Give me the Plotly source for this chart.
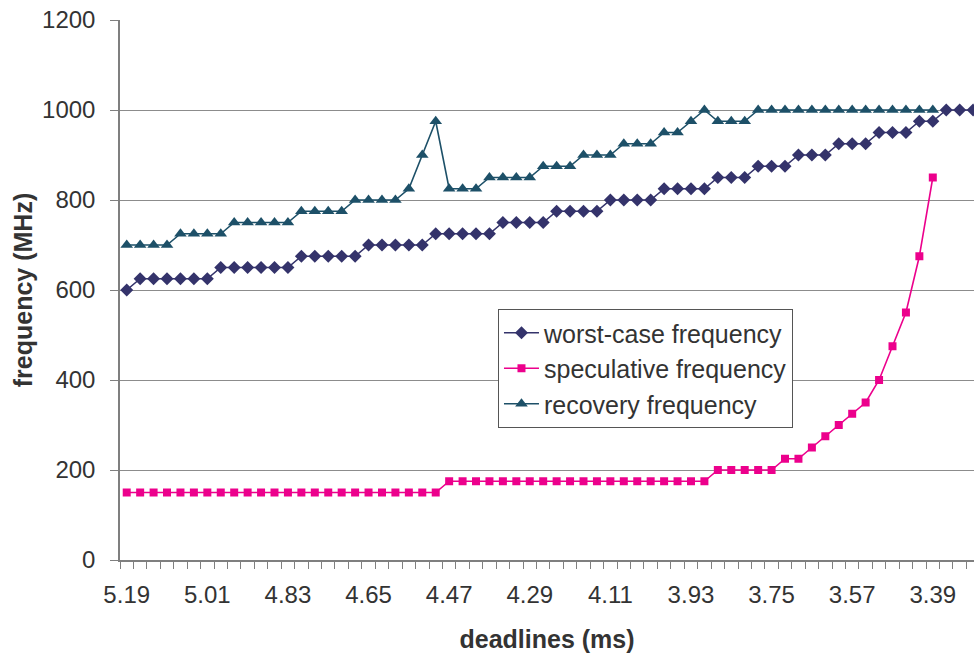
import plotly.graph_objects as go

# Deadline settings (ms), swept from loose to tight
deadlines = [5.19, 5.16, 5.13, 5.10, 5.07, 5.04, 5.01, 4.98, 4.95, 4.92,
             4.89, 4.86, 4.83, 4.80, 4.77, 4.74, 4.71, 4.68, 4.65, 4.62,
             4.59, 4.56, 4.53, 4.50, 4.47, 4.44, 4.41, 4.38, 4.35, 4.32,
             4.29, 4.26, 4.23, 4.20, 4.17, 4.14, 4.11, 4.08, 4.05, 4.02,
             3.99, 3.96, 3.93, 3.90, 3.87, 3.84, 3.81, 3.78, 3.75, 3.72,
             3.69, 3.66, 3.63, 3.60, 3.57, 3.54, 3.51, 3.48, 3.45, 3.42,
             3.39, 3.36, 3.33, 3.30]

# Frequencies in MHz
worst_case = [600, 625, 625, 625, 625, 625, 625, 650, 650, 650,
              650, 650, 650, 675, 675, 675, 675, 675, 700, 700,
              700, 700, 700, 725, 725, 725, 725, 725, 750, 750,
              750, 750, 775, 775, 775, 775, 800, 800, 800, 800,
              825, 825, 825, 825, 850, 850, 850, 875, 875, 875,
              900, 900, 900, 925, 925, 925, 950, 950, 950, 975,
              975, 1000, 1000, 1000]

speculative = [150, 150, 150, 150, 150, 150, 150, 150, 150, 150,
               150, 150, 150, 150, 150, 150, 150, 150, 150, 150,
               150, 150, 150, 150, 175, 175, 175, 175, 175, 175,
               175, 175, 175, 175, 175, 175, 175, 175, 175, 175,
               175, 175, 175, 175, 200, 200, 200, 200, 200, 225,
               225, 250, 275, 300, 325, 350, 400, 475, 550, 675,
               850]

recovery = [700, 700, 700, 700, 725, 725, 725, 725, 750, 750,
            750, 750, 750, 775, 775, 775, 775, 800, 800, 800,
            800, 825, 900, 975, 825, 825, 825, 850, 850, 850,
            850, 875, 875, 875, 900, 900, 900, 925, 925, 925,
            950, 950, 975, 1000, 975, 975, 975, 1000, 1000, 1000,
            1000, 1000, 1000, 1000, 1000, 1000, 1000, 1000, 1000, 1000,
            1000]

label_ticks = deadlines[::6]
boundary_ticks = [round(d + 0.015, 3) for d in deadlines]

FONT = "Liberation Sans, Arial, sans-serif"
AXIS_GREY = "#7f7f7f"
TEXT = "#333333"

fig = go.Figure()
fig.add_trace(go.Scatter(
    x=deadlines[:len(worst_case)], y=worst_case, name="worst-case frequency",
    mode="lines+markers",
    line=dict(color="#34336b", width=1.6),
    marker=dict(symbol="diamond", size=10, color="#34336b"),
))
fig.add_trace(go.Scatter(
    x=deadlines[:len(speculative)], y=speculative, name="speculative frequency",
    mode="lines+markers",
    line=dict(color="#ec008c", width=1.6),
    marker=dict(symbol="square", size=8, color="#ec008c"),
))
fig.add_trace(go.Scatter(
    x=deadlines[:len(recovery)], y=recovery, name="recovery frequency",
    mode="lines+markers",
    line=dict(color="#1d5068", width=1.6),
    marker=dict(symbol="triangle-up", size=11, color="#1d5068"),
))

fig.update_layout(
    width=974, height=658,
    margin=dict(l=120, r=0, t=20, b=98),
    paper_bgcolor="white", plot_bgcolor="white",
    font=dict(family=FONT, size=24, color=TEXT),
    showlegend=True,
    legend=dict(
        x=0.4426, y=0.4648, xanchor="left", yanchor="top",
        bgcolor="white", bordercolor="#555555", borderwidth=1,
        font=dict(family=FONT, size=25, color=TEXT),
        itemwidth=35, tracegroupgap=0,
    ),
    xaxis=dict(
        range=[5.205, 3.298],
        tickmode="array", tickvals=label_ticks,
        ticktext=[f"{v:.2f}" for v in label_ticks],
        ticks="", showgrid=False, zeroline=False,
        showline=True, linecolor=AXIS_GREY, linewidth=1.5,
        ticklabelstandoff=12,
        minor=dict(tickmode="array", tickvals=boundary_ticks,
                   ticks="outside", ticklen=7, tickwidth=1,
                   tickcolor=AXIS_GREY, showgrid=False),
        title=dict(text="<b>deadlines (ms)</b>", standoff=24,
                   font=dict(family=FONT, size=25, color=TEXT)),
        automargin=False,
    ),
    yaxis=dict(
        range=[0, 1200], tickmode="array",
        tickvals=[0, 200, 400, 600, 800, 1000, 1200],
        ticks="outside", ticklen=8, tickwidth=1, tickcolor=AXIS_GREY,
        showgrid=True, gridcolor="#8c8c8c", gridwidth=1,
        zeroline=False,
        showline=True, linecolor=AXIS_GREY, linewidth=1.5,
        ticklabelstandoff=10,
        title=dict(text="<b>frequency (MHz)</b>", standoff=2,
                   font=dict(family=FONT, size=25, color=TEXT)),
        automargin=False,
    ),
)

fig.write_html("out.html")
